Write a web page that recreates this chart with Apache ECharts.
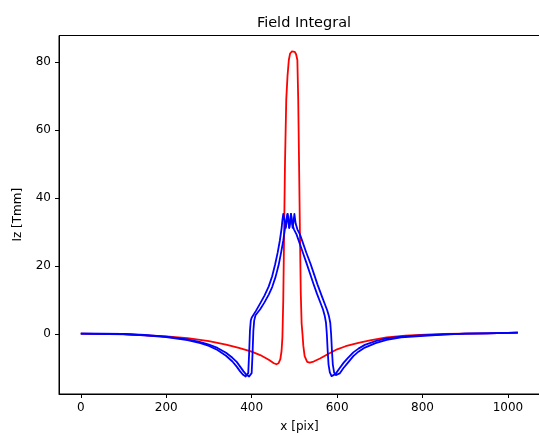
<!DOCTYPE html>
<html>
<head>
<meta charset="utf-8">
<script src="https://cdn.jsdelivr.net/npm/echarts@6/dist/echarts.min.js"></script>
<style>html,body{margin:0;padding:0;background:#fff;}#c{width:539px;height:435px;}</style>
</head>
<body>
<div id="c"></div>
<script>
// Tick labels
var xTicks = [0, 200, 400, 600, 800, 1000];
var yTicks = [0, 20, 40, 60, 80];

// Red curve
var redX = [0, 100, 150, 200, 250, 300, 340, 370, 400, 420, 440, 452, 458, 463, 467, 470, 472, 474, 476, 478, 481, 484, 487, 490, 494, 497, 501, 504, 507, 509, 511, 513, 515, 517, 519, 521, 524, 530, 536, 545, 560, 579, 600, 620, 650, 677, 716, 760, 794, 850, 900, 950, 1000, 1023];
var redY = [0.1, -0.1, -0.4, -0.7, -1.2, -2.1, -3.1, -4.1, -5.2, -6.2, -7.6, -8.6, -8.9, -8.6, -7.5, -5.0, -1.0, 10, 30, 50, 69, 76, 80.6, 82.5, 83.1, 83.3, 83.0, 82.3, 80.6, 69, 50, 30, 12, 3, 0, -3.5, -6.5, -8.2, -8.4, -8.1, -7.2, -5.9, -4.5, -3.6, -2.6, -1.9, -1.0, -0.5, -0.3, 0.0, 0.1, 0.2, 0.3, 0.4];

// Blue curve A (left one)
var blueAX = [0, 100, 150, 200, 250, 280, 300, 320, 340, 355, 365, 373, 380, 386, 390, 392, 394, 396, 398, 400, 410, 420, 430, 440, 448, 455, 461, 466, 470, 472, 474, 477, 480, 482, 484, 486, 488, 490, 492, 495, 499, 505, 512, 520, 528, 536, 544, 553, 561, 567, 571, 574, 576, 578, 580, 583, 587, 590, 596, 605, 615, 625, 638, 650, 665, 690, 716, 750, 794, 850, 900, 950, 1000, 1023];
var blueAY = [0.1, 0.0, -0.4, -0.9, -1.8, -2.7, -3.5, -4.7, -6.4, -8.1, -9.6, -11.0, -12.0, -12.5, -12.4, -11.5, -6, 1.0, 4.0, 4.8, 6.8, 9.0, 11.3, 14.0, 17.0, 20.5, 24.0, 27.5, 31.0, 33.5, 35.3, 33.5, 31.2, 33.0, 35.3, 33.5, 31.2, 33.0, 35.3, 32.5, 30.8, 29.3, 26.8, 23.9, 21.0, 18.0, 15.0, 11.8, 9.2, 7.2, 5.4, 3.3, 0, -5, -9, -11.3, -12.4, -12.5, -11.8, -10.2, -8.5, -7.1, -5.4, -4.3, -3.2, -2.1, -1.3, -0.8, -0.4, -0.1, 0.1, 0.2, 0.3, 0.4];

// Blue curve B (right one)
var blueBX = [0, 100, 150, 200, 250, 280, 300, 320, 340, 355, 365, 373, 381, 388, 394, 398, 400, 402, 404, 406, 409, 420, 430, 440, 448, 456, 463, 469, 474, 478, 481, 484, 486, 488, 490, 492, 494, 496, 498, 500, 503, 507, 513, 520, 528, 538, 546, 554, 564, 571, 577, 581, 584, 586, 588, 590, 593, 597, 600, 606, 615, 625, 638, 650, 665, 690, 716, 750, 794, 850, 900, 950, 1000, 1023];
var blueBY = [0.1, 0.0, -0.3, -0.8, -1.6, -2.4, -3.1, -4.1, -5.5, -7.0, -8.2, -9.6, -11.0, -12.0, -12.5, -12.3, -11.5, -6, 1.0, 4.0, 5.5, 7.3, 9.3, 11.6, 13.8, 16.8, 20.2, 24.0, 27.5, 31.0, 33.5, 35.3, 33.5, 31.2, 33.0, 35.3, 33.5, 31.2, 33.0, 35.3, 32.5, 30.8, 29.3, 26.8, 23.9, 20.6, 17.6, 14.6, 11.2, 8.9, 6.9, 5.2, 3.3, 0, -5, -9, -11.3, -12.1, -12.2, -11.6, -10.0, -8.5, -6.5, -5.2, -4.0, -2.7, -1.7, -1.0, -0.6, -0.2, 0.1, 0.2, 0.3, 0.4];

function pairs(xs, ys) {
  var out = [];
  for (var i = 0; i < xs.length; i++) out.push([xs[i], ys[i]]);
  return out;
}

var chart = echarts.init(document.getElementById('c'), null, {renderer: 'canvas'});
var font = 'DejaVu Sans';
var lineCommon = {type: 'line', showSymbol: false, symbol: 'none', smooth: false, animation: false, z: 3};
chart.setOption({
  backgroundColor: '#ffffff',
  animation: false,
  title: {
    text: 'Field Integral', left: 299, top: 11, textAlign: 'center',
    textStyle: {fontFamily: font, fontSize: 14.5, fontWeight: 'normal', color: '#000'}
  },
  grid: {left: 59, top: 35.5, width: 481, height: 358.5, outerBoundsMode: 'none', containLabel: false, show: true, borderColor: '#000', borderWidth: 1, backgroundColor: 'transparent'},
  xAxis: {
    type: 'value', min: -51, max: 1075,
    name: 'x [pix]', nameLocation: 'middle', nameGap: 27,
    nameTextStyle: {fontFamily: font, fontSize: 12, color: '#000'},
    axisLine: {show: true, onZero: false, lineStyle: {color: '#000', width: 1}},
    axisTick: {show: true, length: 4, lineStyle: {color: '#000'}, customValues: xTicks},
    axisLabel: {fontFamily: font, fontSize: 12, color: '#000', margin: 8, customValues: xTicks, formatter: function (v) { return String(v); }},
    splitLine: {show: false}
  },
  yAxis: {
    type: 'value', min: -17.65, max: 87.8,
    name: 'Iz [Tmm]', nameLocation: 'middle', nameGap: 35,
    nameTextStyle: {fontFamily: font, fontSize: 12, color: '#000'},
    axisLine: {show: true, onZero: false, lineStyle: {color: '#000', width: 1}},
    axisTick: {show: true, length: 4, lineStyle: {color: '#000'}, customValues: yTicks},
    axisLabel: {fontFamily: font, fontSize: 12, color: '#000', margin: 8, customValues: yTicks, formatter: function (v) { return String(v); }},
    splitLine: {show: false}
  },
  series: [
    Object.assign({}, lineCommon, {name: 'red', data: pairs(redX, redY), lineStyle: {color: '#ff0000', width: 1.8, join: 'round'}, itemStyle: {color: '#ff0000'}}),
    Object.assign({}, lineCommon, {name: 'blueA', data: pairs(blueAX, blueAY), lineStyle: {color: '#0000ff', width: 1.8, join: 'round'}, itemStyle: {color: '#0000ff'}}),
    Object.assign({}, lineCommon, {name: 'blueB', data: pairs(blueBX, blueBY), lineStyle: {color: '#0000ff', width: 1.8, join: 'round'}, itemStyle: {color: '#0000ff'}})
  ]
});
</script>
</body>
</html>
